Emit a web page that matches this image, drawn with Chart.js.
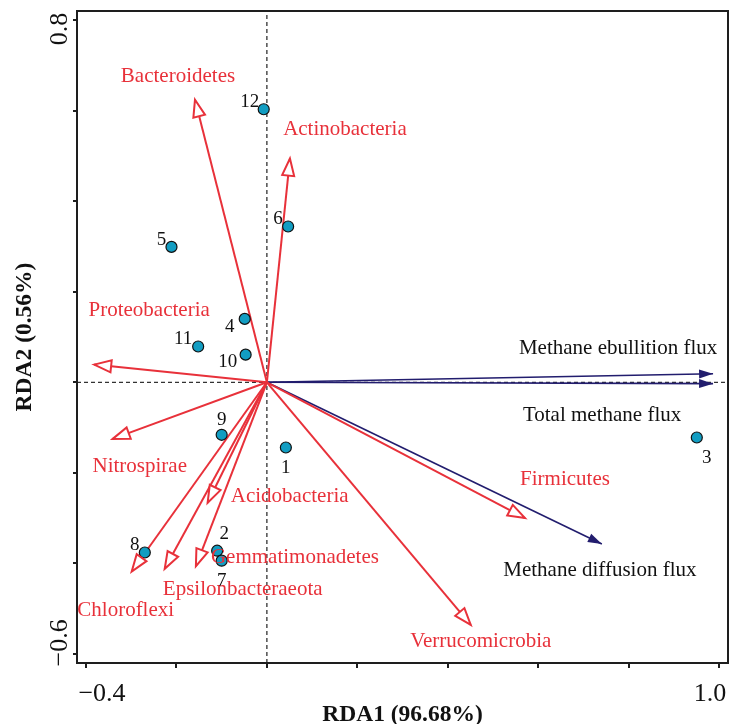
<!DOCTYPE html>
<html>
<head>
<meta charset="utf-8">
<title>RDA biplot</title>
<script src="https://cdn.jsdelivr.net/npm/chart.js@4.4.1/dist/chart.umd.min.js"></script>
<style>
  html, body { margin: 0; padding: 0; background: #ffffff; }
  canvas { display: block; }
</style>
</head>
<body>
<canvas id="rda" width="731" height="724"></canvas>
<script>
// sample sites (RDA1, RDA2)
const siteNames = ["1", "2", "3", "4", "5", "6", "7", "8", "9", "10", "11", "12"];
const siteX = [0.042, -0.110, 0.951, -0.049, -0.211, 0.047, -0.100, -0.270, -0.100, -0.047, -0.152, -0.007];
const siteY = [-0.144, -0.372, -0.122, 0.140, 0.299, 0.344, -0.394, -0.376, -0.116, 0.061, 0.079, 0.603];

// phyla (response arrows)
const phylaNames = ["Bacteroidetes", "Actinobacteria", "Proteobacteria", "Nitrospirae", "Acidobacteria",
  "Gemmatimonadetes", "Epsilonbacteraeota", "Chloroflexi", "Firmicutes", "Verrucomicrobia"];
const phylaX = [-0.159, 0.051, -0.382, -0.341, -0.131, -0.157, -0.226, -0.299, 0.571, 0.451];
const phylaY = [0.624, 0.494, 0.039, -0.125, -0.266, -0.406, -0.412, -0.418, -0.300, -0.536];

// methane fluxes (explanatory arrows)
const fluxNames = ["Methane ebullition flux", "Total methane flux", "Methane diffusion flux"];
const fluxX = [0.987, 0.987, 0.741];
const fluxY = [0.019, -0.003, -0.357];

// axes
const xTicks = [-0.4, -0.2, 0, 0.2, 0.4, 0.6, 0.8, 1.0];
const yTicks = [-0.6, -0.4, -0.2, 0, 0.2, 0.4, 0.6, 0.8];
const xTickLabels = [-0.4, 1.0];
const yTickLabels = [-0.6, 0.8];
const xRange = [-0.42, 1.02];
const yRange = [-0.62, 0.82];
const xTitle = "RDA1 (96.68%)";
const yTitle = "RDA2 (0.56%)";

// look
const RED = "#e8313a";
const NAVY = "#221d6e";
const TEAL = "#129dc2";
const INK = "#1e1e1e";
const SERIF = "'Liberation Serif', 'Times New Roman', serif";

// text placement relative to arrow tip / point, in px (centre x, baseline y)
const phylaLabelShift = [[-17, -18], [55, -24], [55, -49], [27, 33], [82, -1],
  [99, -3], [78, 26], [-6, 44], [40, -33], [10, 22]];
const fluxLabelShift = [[-95, -20], [-111, 37], [-2, 32]];
const siteLabelShift = [[0, 26], [7, -12], [10, 25], [-15, 13], [-10, -2], [-10, -3],
  [0, 25], [-10, -3], [0, -10], [-18, 12], [-15, -3], [-14, -2]];

function arrowSet(xs, ys, color, width, order) {
  return xs.map((x, i) => ({
    type: "scatter",
    data: [{ x: 0, y: 0 }, { x: x, y: ys[i] }],
    showLine: true,
    borderColor: color,
    borderWidth: width,
    pointRadius: 0,
    order: order
  }));
}

const datasets = [];
// sites on top
datasets.push({
  type: "scatter",
  data: siteX.map((x, i) => ({ x: x, y: siteY[i] })),
  pointRadius: 5.5,
  pointBackgroundColor: TEAL,
  pointBorderColor: "#111",
  pointBorderWidth: 1.2,
  order: 0
});
arrowSet(phylaX, phylaY, RED, 2, 1).forEach(d => datasets.push(d));
arrowSet(fluxX, fluxY, NAVY, 1.6, 1).forEach(d => datasets.push(d));
// dashed zero lines
datasets.push({
  type: "scatter",
  data: [{ x: 0, y: yRange[0] }, { x: 0, y: yRange[1] }],
  showLine: true, borderColor: "#333", borderWidth: 1.3, borderDash: [4, 3], pointRadius: 0, order: 2
});
datasets.push({
  type: "scatter",
  data: [{ x: xRange[0], y: 0 }, { x: xRange[1], y: 0 }],
  showLine: true, borderColor: "#333", borderWidth: 1.3, borderDash: [4, 3], pointRadius: 0, order: 2
});

function drawHead(ctx, x0, y0, x1, y1, len, half, open, color) {
  const a = Math.atan2(y1 - y0, x1 - x0);
  const bx = x1 - len * Math.cos(a), by = y1 - len * Math.sin(a);
  const nx = -Math.sin(a) * half, ny = Math.cos(a) * half;
  ctx.beginPath();
  ctx.moveTo(x1, y1);
  ctx.lineTo(bx + nx, by + ny);
  ctx.lineTo(bx - nx, by - ny);
  ctx.closePath();
  if (open) {
    ctx.fillStyle = "#ffffff";
    ctx.fill();
    ctx.strokeStyle = color;
    ctx.lineWidth = 2;
    ctx.lineJoin = "miter";
    ctx.stroke();
  } else {
    ctx.fillStyle = color;
    ctx.fill();
  }
}

const biplotDecor = {
  id: "biplotDecor",
  afterDatasetsDraw(chart) {
    const ctx = chart.ctx;
    const xs = chart.scales.x, ys = chart.scales.y;
    const ox = xs.getPixelForValue(0), oy = ys.getPixelForValue(0);
    ctx.save();
    // arrow heads
    phylaX.forEach((v, i) => {
      drawHead(ctx, ox, oy, xs.getPixelForValue(v), ys.getPixelForValue(phylaY[i]), 17, 6, true, RED);
    });
    fluxX.forEach((v, i) => {
      drawHead(ctx, ox, oy, xs.getPixelForValue(v), ys.getPixelForValue(fluxY[i]), 14, 4.5, false, NAVY);
    });
    // labels
    ctx.textAlign = "center";
    ctx.textBaseline = "alphabetic";
    ctx.font = "21px " + SERIF;
    ctx.fillStyle = RED;
    phylaNames.forEach((name, i) => {
      const px = xs.getPixelForValue(phylaX[i]), py = ys.getPixelForValue(phylaY[i]);
      ctx.fillText(name, px + phylaLabelShift[i][0], py + phylaLabelShift[i][1]);
    });
    ctx.fillStyle = "#111";
    fluxNames.forEach((name, i) => {
      const px = xs.getPixelForValue(fluxX[i]), py = ys.getPixelForValue(fluxY[i]);
      ctx.fillText(name, px + fluxLabelShift[i][0], py + fluxLabelShift[i][1]);
    });
    ctx.font = "19px " + SERIF;
    siteNames.forEach((name, i) => {
      const px = xs.getPixelForValue(siteX[i]), py = ys.getPixelForValue(siteY[i]);
      ctx.fillText(name, px + siteLabelShift[i][0], py + siteLabelShift[i][1]);
    });
    ctx.restore();
  },
  afterDraw(chart) {
    const ctx = chart.ctx;
    const a = chart.chartArea;
    const xs = chart.scales.x, ys = chart.scales.y;
    ctx.save();
    // frame
    ctx.strokeStyle = INK;
    ctx.lineWidth = 2;
    ctx.strokeRect(a.left, a.top, a.right - a.left, a.bottom - a.top);
    // tick labels (only the ends are labelled)
    ctx.fillStyle = "#111";
    ctx.font = "26px " + SERIF;
    ctx.textAlign = "center";
    ctx.textBaseline = "alphabetic";
    xTickLabels.forEach((v, i) => {
      const shift = i === 0 ? 16 : -9;
      ctx.fillText(v.toFixed(1).replace("-", "\u2212"), xs.getPixelForValue(v) + shift, 701);
    });
    yTickLabels.forEach((v, i) => {
      const shift = i === 0 ? -11 : 9;
      ctx.save();
      ctx.translate(67, ys.getPixelForValue(v) + shift);
      ctx.rotate(-Math.PI / 2);
      ctx.fillText(v.toFixed(1).replace("-", "\u2212"), 0, 0);
      ctx.restore();
    });
    ctx.restore();
  }
};

new Chart(document.getElementById("rda"), {
  type: "scatter",
  data: { datasets: datasets },
  plugins: [biplotDecor],
  options: {
    responsive: false,
    animation: false,
    layout: { autoPadding: false, padding: { top: 11, right: 3, left: 0, bottom: 0 } },
    plugins: { legend: { display: false }, tooltip: { enabled: false } },
    scales: {
      x: {
        type: "linear",
        min: xRange[0],
        max: xRange[1],
        afterBuildTicks: axis => { axis.ticks = xTicks.map(v => ({ value: v })); },
        afterFit: scale => { scale.height = 61; },
        ticks: { display: false, autoSkip: false },
        grid: { drawOnChartArea: false, drawTicks: true, tickLength: 5, color: INK, lineWidth: 2 },
        border: { display: true, color: INK, width: 2 },
        title: {
          display: true,
          text: xTitle,
          color: "#111",
          font: { family: SERIF, size: 23.5, weight: "bold", lineHeight: 1 },
          padding: { top: 0, bottom: -3 }
        }
      },
      y: {
        type: "linear",
        min: yRange[0],
        max: yRange[1],
        afterBuildTicks: axis => { axis.ticks = yTicks.map(v => ({ value: v })); },
        afterFit: scale => { scale.width = 77; },
        ticks: { display: false, autoSkip: false },
        grid: { drawOnChartArea: false, drawTicks: true, tickLength: 4, color: INK, lineWidth: 2 },
        border: { display: true, color: INK, width: 2 },
        title: {
          display: true,
          text: yTitle,
          color: "#111",
          font: { family: SERIF, size: 23.5, weight: "bold", lineHeight: 1 },
          padding: { top: 13, bottom: 0 }
        }
      }
    }
  }
});
</script>
</body>
</html>
